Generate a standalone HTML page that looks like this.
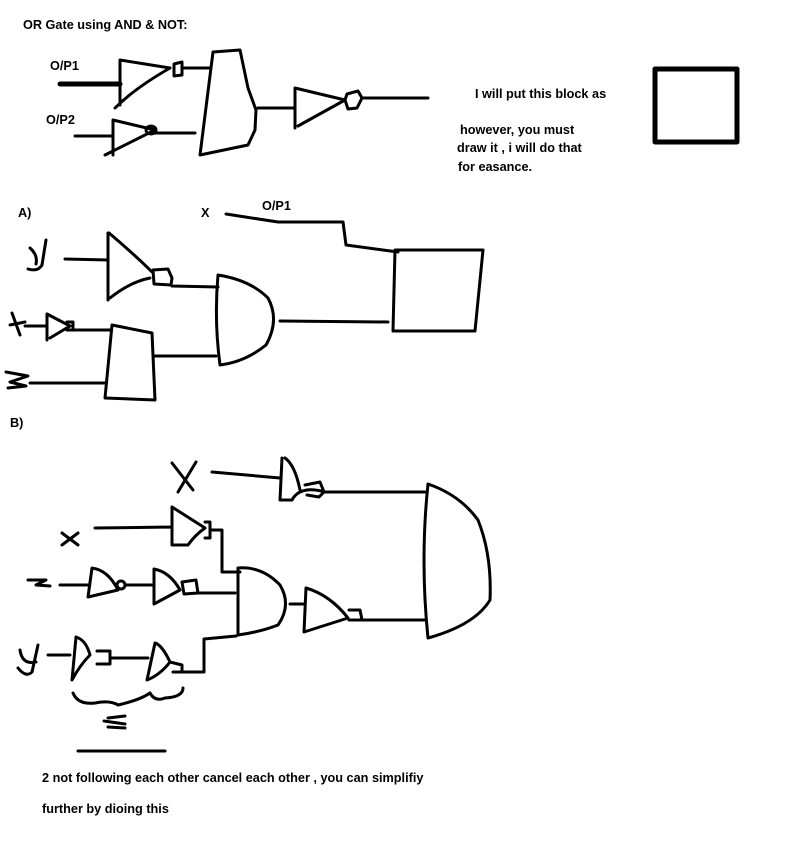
<!DOCTYPE html>
<html><head><meta charset="utf-8"><style>
html,body{margin:0;padding:0;background:#fff;}
svg{display:block}
text{font-family:"Liberation Sans",sans-serif;font-weight:bold;font-size:12.7px;fill:#000}
path,line,polyline,polygon,rect,ellipse{fill:none;stroke:#000;stroke-width:3;stroke-linejoin:round;stroke-linecap:round}
</style></head><body>
<svg width="801" height="846" viewBox="0 0 801 846">
<rect x="0" y="0" width="801" height="846" style="fill:#fff;stroke:none"/>
<text x="23" y="29">OR Gate using  AND &amp; NOT:</text>
<text x="50" y="70">O/P1</text>
<text x="46" y="124">O/P2</text>
<!-- top -->
<line x1="60" y1="84" x2="120" y2="84" style="stroke-width:5"/>
<path d="M120 60 L120 105 M120 60 L170 68 M115 108 Q135 88 170 68"/>
<path d="M174 64 L182 62 L182 75 L174 76 Z M182 68 L210 68"/>
<path d="M75 136 L113 136 M113 120 L113 155 M113 120 L155 130 L105 155"/>
<ellipse cx="151" cy="130" rx="5" ry="4"/>
<path d="M155 133 L195 133"/>
<path d="M213 52 L240 50 L248 88 L256 110 L255 130 L248 145 L200 155 L213 52"/>
<path d="M258 108 L295 108 M295 88 L295 128 M295 88 L345 100 L298 126"/>
<path d="M347 94 L358 91 L362 98 L357 108 L348 109 L345 100 Z M362 98 L428 98"/>
<text x="475" y="98">I will put this block as</text>
<text x="460" y="134">however, you must</text>
<text x="457" y="152">draw it , i will do that</text>
<text x="458" y="171">for easance.</text>
<rect x="655" y="69" width="82" height="73" style="stroke-width:5"/>
<!-- A -->
<text x="18" y="217">A)</text>
<text x="201" y="217">X</text>
<text x="262" y="210">O/P1</text>
<path d="M226 214 L278 222 L343 222 L346 245 L398 252"/>
<path d="M395 250 L483 250 L475 331 L393 331 Z"/>
<path d="M30 248 Q38 255 36 264 M46 240 L42 265 Q38 272 28 269"/>
<path d="M65 259 L108 260 M108 233 L108 300 M109 233 Q135 255 152 272 M110 298 Q130 282 150 278"/>
<path d="M153 270 L168 269 L172 278 L171 285 L154 284 Z M172 286 L218 287"/>
<path d="M218 275 Q250 280 268 298 Q280 320 266 345 Q245 362 220 365 Q214 320 218 275"/>
<path d="M280 321 L388 322"/>
<path d="M12 313 L20 335 M10 325 L25 322 M25 326 L47 326 M47 314 L47 340 M47 314 L70 326 L50 338 M67 322 L73 322 L73 330 L67 330 M73 330 L110 330"/>
<path d="M112 325 L152 333 L155 400 L105 398 Z M155 356 L216 356"/>
<path d="M6 372 L28 376 L10 382 L26 386 L8 388 M30 383 L105 383"/>
<!-- B -->
<text x="10" y="427">B)</text>
<path d="M172 463 L193 490 M196 462 L178 492"/>
<path d="M212 472 L280 478 M282 458 L280 500 L292 500 Q300 485 325 492 M285 458 Q295 465 300 490"/>
<path d="M305 485 L320 482 L324 492 L319 497 L307 495 M325 492 L425 492"/>
<path d="M428 484 Q460 495 478 520 Q492 555 490 600 Q475 625 428 638 Q420 560 428 484"/>
<path d="M62 533 L78 545 M62 545 L78 533 M95 528 L172 527 M172 507 L172 545 L188 545 Q195 535 205 528 L172 507 M205 522 L210 522 L210 538 L205 538 M210 530 L222 530 L222 572 L240 572"/>
<path d="M238 568 Q262 566 280 585 Q292 605 278 625 Q260 632 238 635 Z"/>
<path d="M28 580 L46 580 L36 585 L50 586 M60 585 L88 585 M92 568 L88 597 L118 590 Q108 570 92 568"/>
<ellipse cx="121" cy="585" rx="4" ry="4"/>
<path d="M126 585 L152 585 M154 569 L154 604 L180 590 Q170 572 154 569"/>
<path d="M182 582 L196 580 L198 593 L184 594 Z M198 593 L235 593"/>
<path d="M290 604 L305 604 M306 588 L304 632 L348 618 Q330 595 306 588 M349 610 L360 610 L362 620 L349 620 M362 620 L425 620"/>
<path d="M20 650 Q22 665 36 662 M38 645 L32 672 Q26 678 18 668 M48 655 L70 655 M76 637 L72 680 Q80 665 90 655 Q86 640 76 637 M97 651 L110 651 L110 664 L97 664 M110 658 L148 658 M155 643 L147 680 Q160 675 170 662 Q162 645 155 643 M170 662 L182 665 L182 672 L173 672 M183 672 L204 672 L204 639 L236 636"/>
<path d="M73 693 Q78 705 95 703 Q110 700 118 705 Q140 700 150 693 Q155 702 165 698 Q183 697 183 688"/>
<path d="M108 718 L125 716 M104 721 L125 724 M108 727 L125 728"/>
<line x1="78" y1="751" x2="165" y2="751"/>
<text x="42" y="782">2 not following each other cancel each other , you can simplifiy</text>
<text x="42" y="813">further by dioing this</text>
</svg>
</body></html>
